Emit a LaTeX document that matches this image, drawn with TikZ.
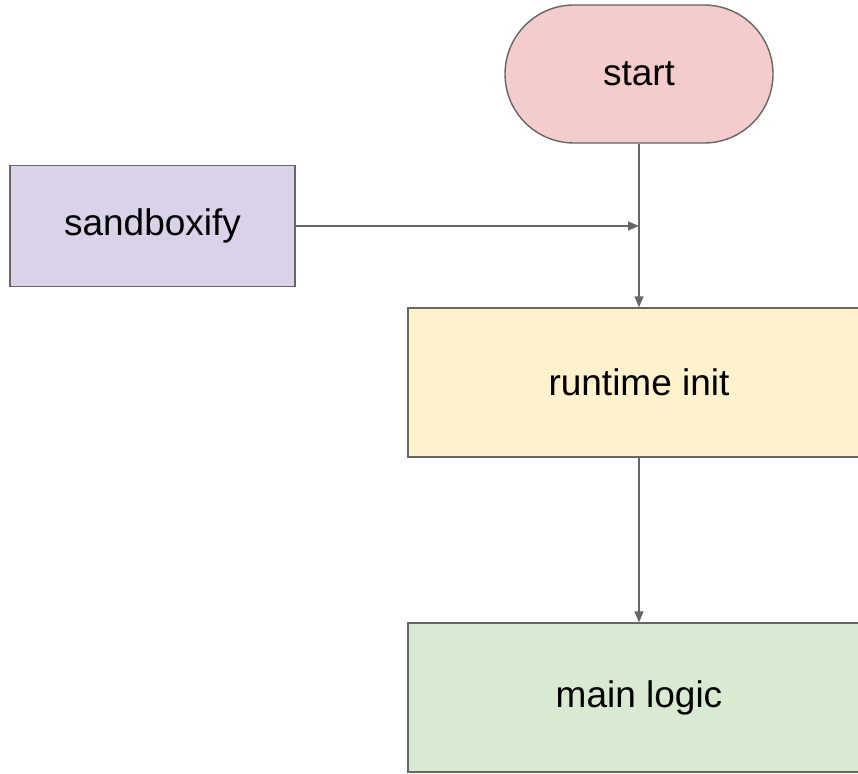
\documentclass[tikz,border=0pt]{standalone}
\usepackage{fontspec}
\setmainfont{Liberation Sans}
\usetikzlibrary{arrows.meta}
\definecolor{edge}{HTML}{666666}
\definecolor{startfill}{HTML}{F4CCCC}
\definecolor{sandfill}{HTML}{D9D2E9}
\definecolor{initfill}{HTML}{FFF2CC}
\definecolor{mainfill}{HTML}{D9EAD3}
\tikzset{
  box/.style={draw=edge, line width=1.4pt, minimum width=#1, inner sep=0pt, font=\fontsize{37}{44}\selectfont, text=black},
  conn/.style={draw=edge, line width=1.4pt, -{Triangle[length=11pt,width=9pt]}},
}
\begin{document}
\begin{tikzpicture}[x=1pt,y=-1pt]
\useasboundingbox (0,0) rectangle (858,773);
\clip (0,0) rectangle (858,773);
\node[box=268pt, fill=startfill, minimum height=138pt, rounded corners=69pt] (start) at (639,74) {start};
\node[box=285pt, fill=sandfill, minimum height=121pt] (sand) at (152.5,226) {sandboxify};
\node[box=462pt, fill=initfill, minimum height=149pt] (init) at (639,382.5) {runtime init};
\node[box=462pt, fill=mainfill, minimum height=149pt] (main) at (639,697.5) {main logic};
\coordinate (j) at (start.south |- sand.east);
\draw[conn] (start.south) -- (init.north);
\draw[conn] (sand.east) -- (j);
\draw[conn] (init.south) -- (main.north);
\end{tikzpicture}
\end{document}
